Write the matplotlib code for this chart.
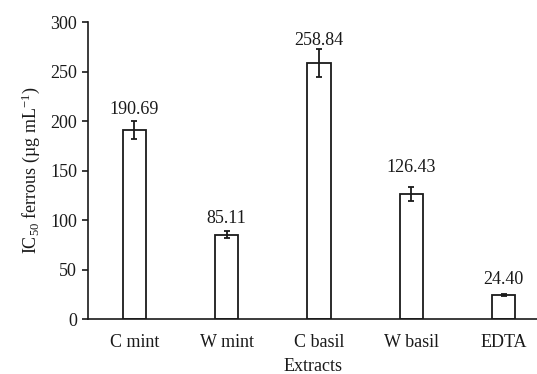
import matplotlib
matplotlib.use("Agg")
import matplotlib.pyplot as plt

categories = ["C mint", "W mint", "C basil", "W basil", "EDTA"]
values = [190.69, 85.11, 258.84, 126.43, 24.40]
errors = [9.0, 3.5, 14.0, 7.0, 1.2]
value_labels = ["190.69", "85.11", "258.84", "126.43", "24.40"]
yticks = [0, 50, 100, 150, 200, 250, 300]

# layout: gap (points) between cap top and label baseline
label_gaps = [5.0, 5.8, 2.9, 10.8, 7.2]

plt.rcParams['font.family'] = ['Liberation Serif', 'DejaVu Serif']
plt.rcParams['mathtext.fontset'] = 'custom'
plt.rcParams['mathtext.rm'] = 'Liberation Serif'
plt.rcParams['mathtext.it'] = 'Liberation Serif:italic'

fig = plt.figure(figsize=(5.37, 3.74), dpi=100)
ax = fig.add_axes([0.164, 0.147, 0.836, 0.794])

x = list(range(len(categories)))
ax.bar(x, values, width=0.25, color='white', edgecolor='#1a1a1a', linewidth=1.3, zorder=2)
ax.errorbar(x, values, yerr=errors, fmt='none', ecolor='#1a1a1a', elinewidth=1.3,
            capsize=2.3, capthick=1.3, zorder=3)
for xi, v, e, lab, g in zip(x, values, errors, value_labels, label_gaps):
    ax.annotate(lab, (xi, v + e), xytext=(0, g), textcoords='offset points',
                ha='center', va='baseline', fontsize=13, color='#1a1a1a')

ax.set_xlim(-0.5, 4.36)
ax.set_ylim(0, 300)
ax.set_yticks(yticks)
ax.set_xticks(x)
ax.set_xticklabels(categories)
ax.tick_params(axis='x', length=0, labelsize=13, pad=11, colors='#1a1a1a')
ax.tick_params(axis='y', length=4, width=1.2, labelsize=13, pad=4, colors='#1a1a1a')
for s in ['top', 'right']:
    ax.spines[s].set_visible(False)
for s in ['left', 'bottom']:
    ax.spines[s].set_linewidth(1.2)
    ax.spines[s].set_color('#1a1a1a')

ax.set_xlabel("Extracts", fontsize=13, labelpad=4.5, color='#1a1a1a')
ax.set_ylabel(r"IC$_{50}$ ferrous (µg mL$^{-1}$)", fontsize=13, labelpad=6, color='#1a1a1a')

fig.savefig("out.png", dpi=100)
